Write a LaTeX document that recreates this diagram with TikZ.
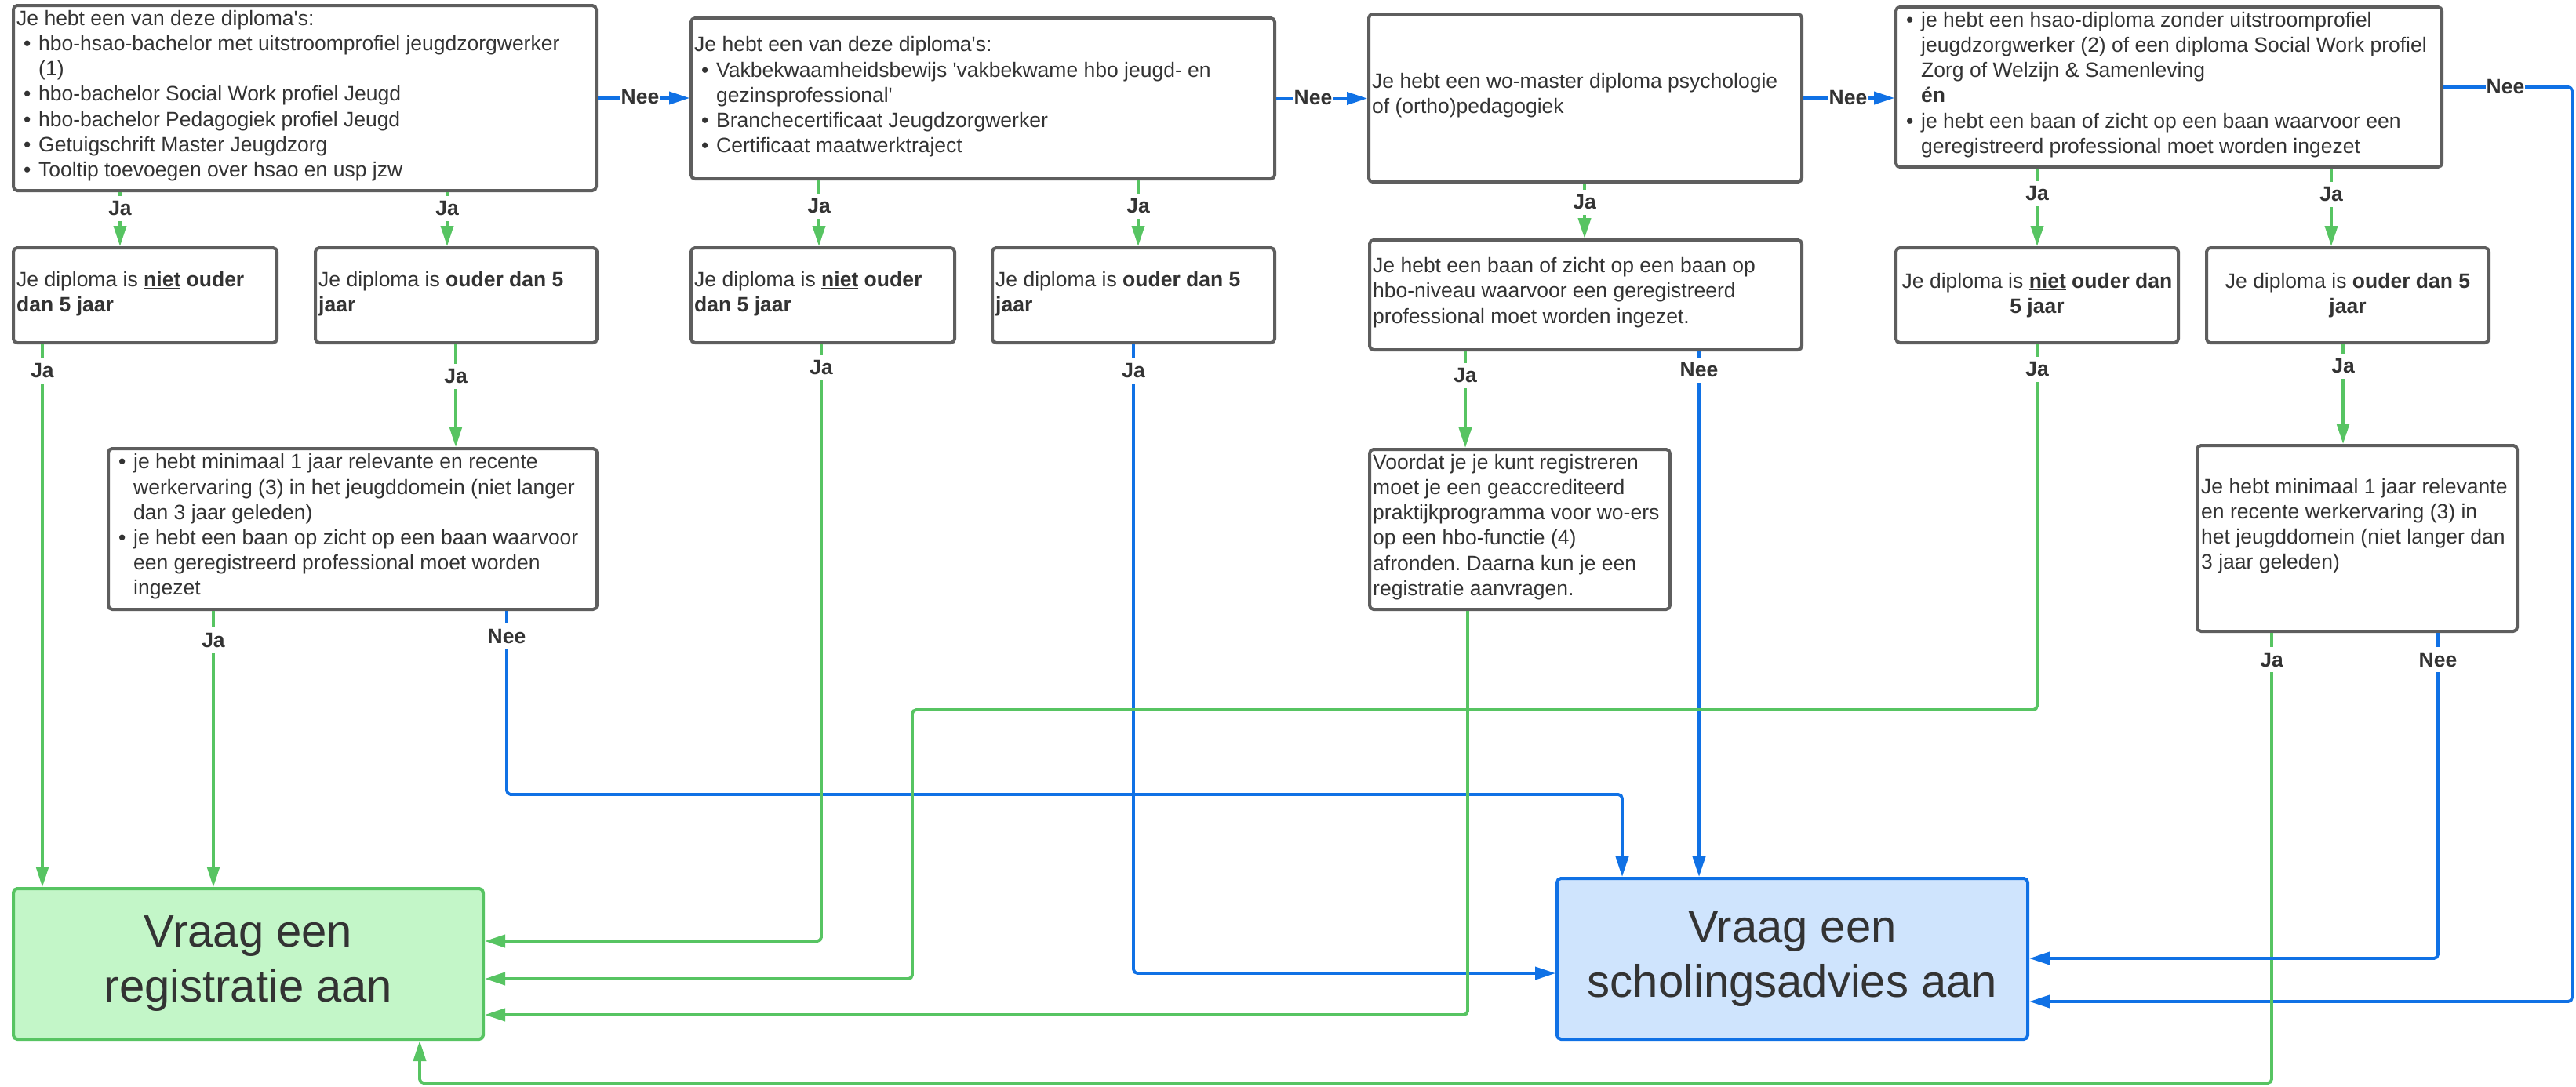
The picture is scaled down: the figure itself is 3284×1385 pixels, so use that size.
\documentclass[tikz,border=0pt]{standalone}
\usepackage{fontspec}
\setmainfont{Liberation Sans}
\usetikzlibrary{arrows.meta}
\definecolor{txtc}{HTML}{333333}
\definecolor{bord}{HTML}{5E5E5E}
\definecolor{grn}{HTML}{57C462}
\definecolor{blu}{HTML}{1071E5}
\definecolor{rfill}{HTML}{C3F6C8}
\definecolor{sfill}{HTML}{CFE4FD}
\newcommand\aq{\textquotesingle}
\newcommand\bi{\hspace*{9pt}\makebox[19pt][l]{•}}
\newcommand\bc{\hspace*{28pt}}
\frenchspacing
\begin{document}
\begin{tikzpicture}[x=1pt,y=-1pt,
  box/.style={draw=bord, line width=4pt, rounded corners=5pt, inner sep=0pt},
  txtn/.style={inner sep=0pt, align=left, text=txtc, font=\fontsize{26.5}{32.2}\selectfont},
  ctxt/.style={align=center, text=txtc, font=\fontsize{26.5}{32.2}\selectfont},
  big/.style={align=center, text=txtc, font=\fontsize{58}{70}\selectfont},
  lbl/.style={fill=white, inner xsep=1pt, inner ysep=7pt, text=txtc, font=\fontsize{26.5}{32.2}\selectfont\bfseries},
  ga/.style={draw=grn, line width=3.8pt, rounded corners=5pt, -{Triangle[length=26pt,width=16pt]}},
  ba/.style={draw=blu, line width=3.8pt, rounded corners=5pt, -{Triangle[length=26pt,width=16pt]}}
]
\fill[white] (0,0) rectangle (3284,1385);
\useasboundingbox (0,0) rectangle (3284,1385);

% boxes
\node[box, minimum width=743, minimum height=236] (A1) at (388.5,125) {};
\node[box, minimum width=744, minimum height=205] (A2) at (1253,125.5) {};
\node[box, minimum width=552, minimum height=214] (A3) at (2021,125) {};
\node[box, minimum width=696, minimum height=204] (A4) at (2765,111) {};
\node[box, minimum width=336, minimum height=121] (B1) at (185,376.5) {};
\node[box, minimum width=359, minimum height=121] (B2) at (581.5,376.5) {};
\node[box, minimum width=336, minimum height=121] (B3) at (1049,376.5) {};
\node[box, minimum width=360, minimum height=121] (B4) at (1445,376.5) {};
\node[box, minimum width=551, minimum height=140] (C3) at (2021.5,376) {};
\node[box, minimum width=360, minimum height=121, ctxt] (B5) at (2597,376.5) {Je diploma is \textbf{\underline{niet} ouder dan}\\ \textbf{5 jaar}};
\node[box, minimum width=360, minimum height=121, ctxt] (B6) at (2993,376.5) {Je diploma is \textbf{ouder dan 5}\\ \textbf{jaar}};
\node[box, minimum width=623, minimum height=205] (D1) at (449.5,674.5) {};
\node[box, minimum width=383, minimum height=204] (D3) at (1937.5,675) {};
\node[box, minimum width=408, minimum height=237] (D6) at (3005,686.5) {};
\node[box, draw=grn, fill=rfill, minimum width=599, minimum height=192, big] (R) at (316.5,1229) {Vraag een\\ registratie aan};
\node[box, draw=blu, fill=sfill, minimum width=600, minimum height=205, big] (S) at (2285,1222.5) {Vraag een\\ scholingsadvies aan};

% texts
\node[txtn, anchor=west] (A1t) at ([xshift=6pt,yshift=3pt]A1.west) {Je hebt een van deze diploma\aq s:\\
\bi hbo-hsao-bachelor met uitstroomprofiel jeugdzorgwerker\\
\bc (1)\\
\bi hbo-bachelor Social Work profiel Jeugd\\
\bi hbo-bachelor Pedagogiek profiel Jeugd\\
\bi Getuigschrift Master Jeugdzorg\\
\bi Tooltip toevoegen over hsao en usp jzw};
\node[txtn, anchor=west] (A2t) at ([xshift=6pt,yshift=2pt]A2.west) {Je hebt een van deze diploma\aq s:\\
\bi Vakbekwaamheidsbewijs \aq vakbekwame hbo jeugd- en\\
\bc gezinsprofessional\aq\\
\bi Branchecertificaat Jeugdzorgwerker\\
\bi Certificaat maatwerktraject};
\node[txtn, anchor=west] (A3t) at ([xshift=6pt,yshift=3pt]A3.west) {Je hebt een wo-master diploma psychologie\\ of (ortho)pedagogiek};
\node[txtn, anchor=west] (A4t) at ([xshift=6pt,yshift=3pt]A4.west) {\bi je hebt een hsao-diploma zonder uitstroomprofiel\\
\bc jeugdzorgwerker (2) of een diploma Social Work profiel\\
\bc Zorg of Welzijn \& Samenleving\\
\bc \textbf{én}\\
\bi je hebt een baan of zicht op een baan waarvoor een\\
\bc geregistreerd professional moet worden ingezet};
\node[txtn, anchor=west] (B1t) at ([xshift=6pt,yshift=2pt]B1.west) {Je diploma is \textbf{\underline{niet} ouder}\\ \textbf{dan 5 jaar}};
\node[txtn, anchor=west] (B2t) at ([xshift=6pt,yshift=2pt]B2.west) {Je diploma is \textbf{ouder dan 5}\\ \textbf{jaar}};
\node[txtn, anchor=west] (B3t) at ([xshift=6pt,yshift=2pt]B3.west) {Je diploma is \textbf{\underline{niet} ouder}\\ \textbf{dan 5 jaar}};
\node[txtn, anchor=west] (B4t) at ([xshift=6pt,yshift=2pt]B4.west) {Je diploma is \textbf{ouder dan 5}\\ \textbf{jaar}};
\node[txtn, anchor=west] (C3t) at ([xshift=6pt,yshift=3pt]C3.west) {Je hebt een baan of zicht op een baan op\\ hbo-niveau waarvoor een geregistreerd\\ professional moet worden ingezet.};
\node[txtn, anchor=west] (D1t) at ([xshift=6pt,yshift=3pt]D1.west) {\bi je hebt minimaal 1 jaar relevante en recente\\
\bc werkervaring (3) in het jeugddomein (niet langer\\
\bc dan 3 jaar geleden)\\
\bi je hebt een baan op zicht op een baan waarvoor\\
\bc een geregistreerd professional moet worden\\
\bc ingezet};
\node[txtn, anchor=west] (D3t) at ([xshift=6pt,yshift=3pt]D3.west) {Voordat je je kunt registreren\\ moet je een geaccrediteerd\\ praktijkprogramma voor wo-ers\\ op een hbo-functie (4)\\ afronden. Daarna kun je een\\ registratie aanvragen.};
\node[txtn, anchor=west] (D6t) at ([xshift=7pt,yshift=16pt]D6.west) {Je hebt minimaal 1 jaar relevante\\ en recente werkervaring (3) in\\ het jeugddomein (niet langer dan\\ 3 jaar geleden)};

% column coordinates
\coordinate (kA1a) at (153,0);
\coordinate (kA1b) at (570,0);
\coordinate (kA2a) at (1044,0);
\coordinate (kA2b) at (1451,0);
\coordinate (kA3) at (2020,0);
\coordinate (kA4a) at (2597,0);
\coordinate (kA4b) at (2972,0);
\coordinate (kB1) at (54,0);
\coordinate (kB2) at (581,0);
\coordinate (kC3a) at (1868,0);
\coordinate (kC3b) at (2166,0);
\coordinate (kB6) at (2987,0);
\coordinate (kD1a) at (272,0);
\coordinate (pD1) at (2068,1013);
\coordinate (kD1b) at (646,0);
\coordinate (pB3) at (1047,1200);
\coordinate (pB4) at (1445,1241);
\coordinate (pD3) at (1871,1294);
\coordinate (pB5a) at (1163,905);
\coordinate (pB5b) at (1163,1248);
\coordinate (pD6a) at (2896,1381);
\coordinate (pD6b) at (535,1381);
\coordinate (pD6n) at (3108,1222);
\coordinate (pA4) at (3279,1277);

% connectors
\draw[ba] (A1.east) -- (A2.west |- A1.east);
\draw[ba] (A2.east) -- (A3.west |- A2.east);
\draw[ba] (A3.east) -- (A4.west |- A3.east);
\draw[ba] (A4.east) -| (pA4) -- (S.east |- pA4);
\draw[ga] (A1.south -| kA1a) -- (B1.north -| kA1a);
\draw[ga] (A1.south -| kA1b) -- (B2.north -| kA1b);
\draw[ga] (A2.south -| kA2a) -- (B3.north -| kA2a);
\draw[ga] (A2.south -| kA2b) -- (B4.north -| kA2b);
\draw[ga] (A3.south -| kA3) -- (C3.north -| kA3);
\draw[ga] (A4.south -| kA4a) -- (B5.north -| kA4a);
\draw[ga] (A4.south -| kA4b) -- (B6.north -| kA4b);
\draw[ga] (B1.south -| kB1) -- (R.north -| kB1);
\draw[ga] (B2.south -| kB2) -- (D1.north -| kB2);
\draw[ga] (D1.south -| kD1a) -- (R.north -| kD1a);
\draw[ba] (D1.south -| kD1b) |- (pD1) -- (S.north -| pD1);
\draw[ga] (B3.south -| pB3) -- (pB3) -- (R.east |- pB3);
\draw[ba] (B4.south -| pB4) -- (pB4) -- (S.west |- pB4);
\draw[ga] (C3.south -| kC3a) -- (D3.north -| kC3a);
\draw[ba] (C3.south -| kC3b) -- (S.north -| kC3b);
\draw[ga] (D3.south -| pD3) -- (pD3) -- (R.east |- pD3);
\draw[ga] (B5.south) |- (pB5a) -- (pB5b) -- (R.east |- pB5b);
\draw[ga] (B6.south -| kB6) -- (D6.north -| kB6);
\draw[ga] (D6.south -| pD6a) -- (pD6a) -- (pD6b) -- (R.south -| pD6b);
\draw[ba] (D6.south -| pD6n) -- (pD6n) -- (S.east |- pD6n);

% labels
\node[lbl] (n1) at (816,124) {Nee};
\node[lbl] (n2) at (1674,125) {Nee};
\node[lbl] (n3) at (2356,125) {Nee};
\node[lbl] (n4) at (3194,111) {Nee};
\node[lbl] (j1) at (153,266) {Ja};
\node[lbl] (j2) at (570,266) {Ja};
\node[lbl] (j3) at (1044,263) {Ja};
\node[lbl] (j4) at (1451,263) {Ja};
\node[lbl] (j5) at (2020,258) {Ja};
\node[lbl] (j6) at (2597,247) {Ja};
\node[lbl] (j7) at (2972,248) {Ja};
\node[lbl] (j8) at (54,473) {Ja};
\node[lbl] (j9) at (581,480) {Ja};
\node[lbl] (j10) at (1047,469) {Ja};
\node[lbl] (j11) at (1445,473) {Ja};
\node[lbl] (j12) at (1868,479) {Ja};
\node[lbl] (n5) at (2166,472) {Nee};
\node[lbl] (j13) at (2597,471) {Ja};
\node[lbl] (j14) at (2987,467) {Ja};
\node[lbl] (j15) at (272,816) {Ja};
\node[lbl] (n6) at (646,811) {Nee};
\node[lbl] (j16) at (2896,841) {Ja};
\node[lbl] (n7) at (3108,841) {Nee};
\end{tikzpicture}
\end{document}
